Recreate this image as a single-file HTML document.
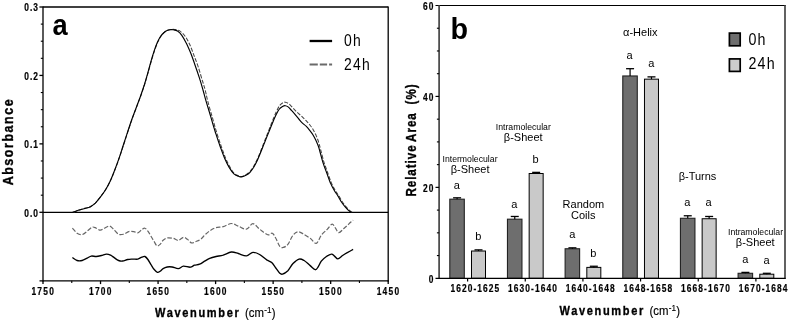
<!DOCTYPE html>
<html lang="en"><head><meta charset="utf-8"><title>FTIR spectra and secondary structure</title>
<style>
html,body{margin:0;padding:0;background:#fff;}
body{width:790px;height:321px;overflow:hidden;}
svg{display:block;}
text{font-family:"Liberation Sans",sans-serif;fill:#000;}
.b{font-weight:bold;}
</style></head><body>
<svg width="790" height="321" viewBox="0 0 790 321">
<rect width="790" height="321" fill="#fff"/>

<g id="plotA">
<line x1="43.00" y1="7.00" x2="388.20" y2="7.00" stroke="#000" stroke-width="1.3" />
<line x1="388.20" y1="6.40" x2="388.20" y2="281.40" stroke="#000" stroke-width="1.3" />
<line x1="43.00" y1="6.40" x2="43.00" y2="281.40" stroke="#000" stroke-width="1.3" />
<line x1="39.50" y1="280.80" x2="388.80" y2="280.80" stroke="#000" stroke-width="1.3" />
<line x1="43.00" y1="212.30" x2="388.20" y2="212.30" stroke="#000" stroke-width="1.3" />
<line x1="39.40" y1="212.30" x2="43.00" y2="212.30" stroke="#000" stroke-width="1.3" />
<line x1="40.80" y1="195.19" x2="43.00" y2="195.19" stroke="#000" stroke-width="1.1" />
<line x1="40.80" y1="178.08" x2="43.00" y2="178.08" stroke="#000" stroke-width="1.1" />
<line x1="40.80" y1="160.97" x2="43.00" y2="160.97" stroke="#000" stroke-width="1.1" />
<line x1="39.40" y1="143.87" x2="43.00" y2="143.87" stroke="#000" stroke-width="1.3" />
<line x1="40.80" y1="126.76" x2="43.00" y2="126.76" stroke="#000" stroke-width="1.1" />
<line x1="40.80" y1="109.65" x2="43.00" y2="109.65" stroke="#000" stroke-width="1.1" />
<line x1="40.80" y1="92.54" x2="43.00" y2="92.54" stroke="#000" stroke-width="1.1" />
<line x1="39.40" y1="75.43" x2="43.00" y2="75.43" stroke="#000" stroke-width="1.3" />
<line x1="40.80" y1="58.32" x2="43.00" y2="58.32" stroke="#000" stroke-width="1.1" />
<line x1="40.80" y1="41.22" x2="43.00" y2="41.22" stroke="#000" stroke-width="1.1" />
<line x1="40.80" y1="24.11" x2="43.00" y2="24.11" stroke="#000" stroke-width="1.1" />
<line x1="39.40" y1="7.00" x2="43.00" y2="7.00" stroke="#000" stroke-width="1.3" />
<text class="b" transform="translate(38.80,216.60) scale(0.84,1)" font-size="10" text-anchor="end" letter-spacing="1.1"  stroke="#000" stroke-width="0.2">0.0</text>
<text class="b" transform="translate(38.80,148.17) scale(0.84,1)" font-size="10" text-anchor="end" letter-spacing="1.1"  stroke="#000" stroke-width="0.2">0.1</text>
<text class="b" transform="translate(38.80,79.73) scale(0.84,1)" font-size="10" text-anchor="end" letter-spacing="1.1"  stroke="#000" stroke-width="0.2">0.2</text>
<text class="b" transform="translate(38.80,11.30) scale(0.84,1)" font-size="10" text-anchor="end" letter-spacing="1.1"  stroke="#000" stroke-width="0.2">0.3</text>
<line x1="43.00" y1="280.80" x2="43.00" y2="284.10" stroke="#000" stroke-width="1.3" />
<text class="b" transform="translate(43.30,294.90) scale(0.84,1)" font-size="10" text-anchor="middle" letter-spacing="1.5"  stroke="#000" stroke-width="0.2">1750</text>
<line x1="71.77" y1="280.80" x2="71.77" y2="283.00" stroke="#000" stroke-width="1.1" />
<line x1="100.53" y1="280.80" x2="100.53" y2="284.10" stroke="#000" stroke-width="1.3" />
<text class="b" transform="translate(100.83,294.90) scale(0.84,1)" font-size="10" text-anchor="middle" letter-spacing="1.5"  stroke="#000" stroke-width="0.2">1700</text>
<line x1="129.30" y1="280.80" x2="129.30" y2="283.00" stroke="#000" stroke-width="1.1" />
<line x1="158.07" y1="280.80" x2="158.07" y2="284.10" stroke="#000" stroke-width="1.3" />
<text class="b" transform="translate(158.37,294.90) scale(0.84,1)" font-size="10" text-anchor="middle" letter-spacing="1.5"  stroke="#000" stroke-width="0.2">1650</text>
<line x1="186.83" y1="280.80" x2="186.83" y2="283.00" stroke="#000" stroke-width="1.1" />
<line x1="215.60" y1="280.80" x2="215.60" y2="284.10" stroke="#000" stroke-width="1.3" />
<text class="b" transform="translate(215.90,294.90) scale(0.84,1)" font-size="10" text-anchor="middle" letter-spacing="1.5"  stroke="#000" stroke-width="0.2">1600</text>
<line x1="244.37" y1="280.80" x2="244.37" y2="283.00" stroke="#000" stroke-width="1.1" />
<line x1="273.13" y1="280.80" x2="273.13" y2="284.10" stroke="#000" stroke-width="1.3" />
<text class="b" transform="translate(273.43,294.90) scale(0.84,1)" font-size="10" text-anchor="middle" letter-spacing="1.5"  stroke="#000" stroke-width="0.2">1550</text>
<line x1="301.90" y1="280.80" x2="301.90" y2="283.00" stroke="#000" stroke-width="1.1" />
<line x1="330.67" y1="280.80" x2="330.67" y2="284.10" stroke="#000" stroke-width="1.3" />
<text class="b" transform="translate(330.97,294.90) scale(0.84,1)" font-size="10" text-anchor="middle" letter-spacing="1.5"  stroke="#000" stroke-width="0.2">1500</text>
<line x1="359.43" y1="280.80" x2="359.43" y2="283.00" stroke="#000" stroke-width="1.1" />
<line x1="388.20" y1="280.80" x2="388.20" y2="284.10" stroke="#000" stroke-width="1.3" />
<text class="b" transform="translate(388.50,294.90) scale(0.84,1)" font-size="10" text-anchor="middle" letter-spacing="1.5"  stroke="#000" stroke-width="0.2">1450</text>
<text class="b" transform="translate(13.20,141.60) rotate(-90) scale(0.86,1)" font-size="14.5" text-anchor="middle" letter-spacing="1.8"  stroke="#000" stroke-width="0.35">Absorbance</text>
<text class="b" transform="translate(155,317.2) scale(0.83,1)" font-size="13.3" letter-spacing="2.0" stroke="#000" stroke-width="0.35">Wavenumber</text>
<text transform="translate(244.9,317.2) scale(0.95,1)" font-size="12" stroke="#000" stroke-width="0.15">(cm<tspan font-size="8.6" dy="-4.4" dx="0.3" letter-spacing="0.2">-1</tspan><tspan dy="4.4" dx="0">)</tspan></text>
<text class="b" transform="translate(52.60,35.20) scale(0.94,1)" font-size="29" text-anchor="start" stroke="none">a</text>
<path d="M73.5,212.3C74.1,212.1 76.0,211.3 77.3,210.8C78.5,210.3 79.5,209.9 81.0,209.4C82.5,208.9 84.3,208.5 86.0,208.0C87.7,207.5 89.3,207.2 91.0,206.3C92.7,205.4 94.3,204.2 96.0,202.5C97.7,200.8 99.3,198.2 101.0,196.0C102.7,193.8 104.3,191.8 106.0,189.0C107.7,186.2 109.3,183.1 111.0,179.4C112.7,175.7 114.6,170.7 116.0,167.0C117.4,163.3 118.2,161.0 119.5,157.3C120.8,153.6 122.2,149.1 123.6,144.8C125.0,140.5 126.5,136.0 127.9,131.6C129.4,127.2 130.8,122.7 132.3,118.5C133.8,114.3 135.2,110.6 136.7,106.7C138.1,102.8 139.7,98.9 141.0,95.2C142.3,91.5 143.5,88.0 144.7,84.3C145.8,80.6 146.8,77.1 147.9,73.3C149.0,69.5 150.1,65.2 151.2,61.5C152.3,57.8 153.4,54.0 154.5,50.8C155.6,47.6 156.7,44.5 157.8,42.1C158.9,39.7 159.9,37.7 161.0,36.1C162.1,34.5 163.2,33.4 164.3,32.4C165.4,31.4 166.5,30.8 167.6,30.3C168.7,29.8 169.8,29.6 171.0,29.5C172.2,29.4 173.4,29.3 174.8,29.5C176.2,29.7 178.0,29.8 179.7,30.9C181.4,32.0 183.5,34.1 185.1,36.3C186.7,38.5 188.1,40.9 189.5,44.0C190.9,47.1 192.4,51.1 193.8,54.9C195.2,58.7 196.8,62.4 198.2,66.8C199.6,71.1 201.3,77.1 202.5,81.0C203.7,84.9 204.3,86.7 205.2,90.0C206.0,93.3 206.5,96.2 207.6,100.6C208.7,105.0 210.5,111.0 212.0,116.2C213.5,121.4 214.9,126.8 216.4,131.7C217.9,136.6 219.5,141.3 221.0,145.7C222.5,150.1 224.1,154.5 225.6,158.2C227.1,161.8 228.7,165.0 230.2,167.6C231.7,170.2 233.1,172.4 234.6,173.8C236.1,175.2 237.8,175.6 239.0,176.0C240.2,176.4 240.8,176.8 242.0,176.5C243.2,176.2 245.1,175.2 246.4,174.4C247.7,173.6 248.8,172.8 250.0,171.5C251.2,170.2 252.4,168.4 253.7,166.3C254.9,164.2 256.2,161.5 257.5,158.7C258.8,155.9 260.0,152.8 261.2,149.7C262.4,146.6 263.6,143.5 264.9,140.3C266.1,137.1 267.4,133.8 268.7,130.6C269.9,127.4 271.1,124.3 272.4,121.2C273.6,118.1 275.0,114.5 276.2,112.0C277.4,109.5 278.3,107.4 279.4,105.9C280.4,104.4 281.5,103.6 282.5,103.0C283.5,102.4 284.2,102.0 285.3,102.2C286.4,102.4 287.7,102.9 289.0,103.9C290.3,104.9 291.9,107.0 293.3,108.4C294.7,109.9 296.1,111.3 297.5,112.6C298.9,113.9 300.4,115.1 301.8,116.4C303.2,117.8 304.8,119.4 306.1,120.7C307.4,122.0 308.4,123.1 309.5,124.5C310.6,125.9 311.8,127.3 312.9,129.2C314.0,131.1 315.4,133.8 316.4,136.1C317.4,138.4 318.2,140.7 318.9,143.0C319.6,145.3 319.8,146.8 320.7,150.0C321.6,153.2 322.8,158.5 324.0,162.3C325.2,166.1 326.5,169.4 327.7,172.8C328.9,176.2 330.1,180.0 331.4,182.9C332.6,185.8 333.9,188.1 335.2,190.3C336.4,192.5 337.7,193.9 338.9,195.9C340.1,197.9 341.4,200.4 342.6,202.3C343.9,204.2 345.1,205.7 346.4,207.1C347.6,208.5 349.1,210.0 350.1,210.9C351.1,211.8 352.1,212.2 352.5,212.5" fill="none" stroke="#444" stroke-width="1.05" stroke-dasharray="4 1.6"/>
<path d="M72.5,212.3C73.1,212.1 75.0,211.4 76.3,211.0C77.6,210.6 78.6,210.2 80.1,209.8C81.5,209.4 83.3,208.9 85.0,208.4C86.7,207.9 88.5,207.8 90.2,206.9C91.9,206.0 93.6,204.8 95.3,203.2C97.0,201.5 98.7,199.2 100.4,197.0C102.1,194.8 103.7,192.8 105.4,190.0C107.1,187.2 108.8,184.1 110.5,180.4C112.2,176.7 114.1,171.7 115.5,168.0C116.9,164.3 117.7,162.0 119.0,158.3C120.3,154.6 121.7,150.1 123.1,145.8C124.5,141.5 126.0,137.0 127.4,132.6C128.9,128.2 130.3,123.7 131.8,119.5C133.3,115.3 134.8,111.6 136.2,107.7C137.6,103.8 139.2,99.9 140.5,96.2C141.8,92.5 143.0,89.0 144.2,85.3C145.3,81.6 146.3,78.1 147.4,74.3C148.5,70.5 149.6,66.1 150.7,62.3C151.8,58.5 152.9,54.7 154.0,51.4C155.1,48.1 156.2,45.1 157.3,42.6C158.4,40.1 159.4,38.1 160.5,36.5C161.6,34.9 162.7,33.7 163.8,32.7C164.9,31.7 166.0,31.1 167.1,30.6C168.2,30.1 169.2,29.8 170.3,29.7C171.4,29.6 172.4,29.6 173.6,29.8C174.8,30.0 176.1,30.2 177.5,31.1C178.9,32.0 180.4,33.3 181.8,35.3C183.2,37.3 184.7,40.0 186.2,42.9C187.7,45.8 189.1,49.1 190.6,52.7C192.1,56.3 193.4,60.5 194.9,64.7C196.4,68.9 198.0,73.5 199.3,77.7C200.7,81.9 201.9,86.2 203.0,90.0C204.1,93.8 204.6,96.2 205.9,100.6C207.2,105.0 209.1,111.0 210.6,116.2C212.1,121.4 213.6,126.8 215.2,131.7C216.8,136.6 218.3,141.3 219.9,145.7C221.5,150.1 223.0,154.5 224.6,158.2C226.2,161.8 227.8,165.0 229.3,167.6C230.9,170.2 232.4,172.4 233.9,173.8C235.4,175.2 237.3,175.8 238.6,176.3C239.9,176.8 240.4,177.1 241.7,176.9C243.0,176.7 245.0,175.8 246.4,175.0C247.8,174.2 248.8,173.6 250.0,172.3C251.2,171.0 252.4,169.4 253.7,167.3C254.9,165.2 256.2,162.6 257.5,159.9C258.8,157.2 260.0,154.1 261.2,151.1C262.4,148.1 263.6,145.0 264.9,141.9C266.1,138.8 267.4,135.5 268.7,132.4C269.9,129.3 271.1,126.2 272.4,123.2C273.6,120.2 275.0,116.9 276.2,114.5C277.4,112.1 278.3,110.3 279.4,109.0C280.4,107.7 281.5,107.0 282.5,106.4C283.5,105.9 284.4,105.6 285.3,105.7C286.2,105.8 287.1,106.1 288.1,106.9C289.1,107.7 290.4,109.2 291.5,110.4C292.6,111.6 293.7,112.8 295.0,114.3C296.3,115.8 297.9,118.0 299.2,119.5C300.5,121.0 301.5,122.2 302.7,123.3C303.9,124.4 305.0,125.1 306.1,126.2C307.2,127.3 308.4,128.7 309.5,130.1C310.6,131.5 311.9,133.1 312.9,134.7C313.9,136.3 314.6,137.7 315.5,139.5C316.4,141.3 317.4,143.8 318.1,145.5C318.8,147.2 318.7,147.2 319.5,150.0C320.3,152.8 321.7,158.5 322.9,162.3C324.1,166.1 325.4,169.4 326.7,172.8C327.9,176.2 329.1,180.0 330.4,182.9C331.6,185.8 332.9,188.1 334.2,190.3C335.4,192.5 336.7,193.9 337.9,195.9C339.1,197.9 340.4,200.4 341.6,202.3C342.9,204.2 344.1,205.7 345.4,207.1C346.6,208.5 348.1,210.0 349.1,210.9C350.2,211.8 351.3,212.3 351.7,212.6" fill="none" stroke="#000" stroke-width="1.15"/>
<path d="M72.4,228.2C73.2,229.0 75.5,232.1 77.1,233.2C78.7,234.3 80.4,234.9 82.1,234.6C83.8,234.3 85.5,232.4 87.2,231.2C88.9,229.9 90.8,227.6 92.3,227.1C93.8,226.6 94.9,227.7 96.3,228.2C97.7,228.7 99.1,230.2 100.4,230.2C101.8,230.2 102.9,228.9 104.4,228.2C105.9,227.5 108.0,225.9 109.5,226.1C111.0,226.3 112.0,227.8 113.5,229.2C115.0,230.5 116.9,233.4 118.6,234.2C120.3,235.0 121.9,234.6 123.6,234.2C125.3,233.8 127.0,232.0 128.7,231.6C130.4,231.2 132.3,231.4 133.8,231.6C135.3,231.8 136.5,233.1 137.8,232.8C139.2,232.5 140.7,230.4 141.9,229.6C143.1,228.8 143.9,227.9 144.9,228.2C145.9,228.5 146.9,229.8 147.9,231.2C148.9,232.5 150.0,234.6 151.0,236.3C152.0,238.0 153.0,239.7 154.0,241.3C155.0,242.9 156.0,245.3 157.0,245.8C158.0,246.3 159.1,245.3 160.1,244.4C161.1,243.5 161.9,241.4 163.1,240.3C164.3,239.2 165.5,238.2 167.2,237.9C168.9,237.6 171.3,237.9 173.2,238.3C175.0,238.7 176.6,240.5 178.3,240.3C180.0,240.1 181.9,237.5 183.4,237.3C184.9,237.1 186.1,238.4 187.4,239.3C188.8,240.2 190.2,242.5 191.5,242.9C192.8,243.3 194.0,242.3 195.5,241.7C197.0,241.1 198.9,240.6 200.6,239.3C202.3,238.1 203.9,235.7 205.6,234.2C207.3,232.7 208.9,231.3 210.7,230.2C212.4,229.1 214.0,228.2 216.1,227.6C218.2,227.0 220.7,227.4 223.2,226.7C225.7,226.0 228.8,223.6 231.3,223.5C233.8,223.4 235.8,225.2 238.3,226.1C240.8,227.0 244.0,229.6 246.4,229.2C248.8,228.8 250.7,223.7 252.9,223.7C255.1,223.7 257.1,227.3 259.6,229.2C262.1,231.0 265.6,234.1 267.7,234.8C269.8,235.5 270.9,232.6 272.3,233.2C273.7,233.8 274.6,236.1 275.8,238.3C277.1,240.5 278.6,244.9 279.8,246.4C281.1,247.9 282.0,247.7 283.3,247.4C284.6,247.1 286.3,246.4 287.9,244.4C289.5,242.4 291.3,237.3 293.0,235.2C294.7,233.1 296.4,232.0 298.1,231.8C299.8,231.6 301.1,232.7 303.1,233.8C305.1,234.9 308.0,236.7 310.2,238.3C312.4,239.9 314.4,243.8 316.3,243.3C318.2,242.8 319.5,237.5 321.3,235.2C323.1,232.8 325.6,231.0 327.4,229.2C329.2,227.3 330.8,224.3 332.1,224.1C333.5,223.9 334.4,226.8 335.5,228.2C336.6,229.6 337.5,232.5 338.9,232.6C340.2,232.7 342.0,230.2 343.6,228.8C345.2,227.4 347.1,225.6 348.7,224.1C350.3,222.6 352.4,220.8 353.1,220.1" fill="none" stroke="#666" stroke-width="1.2" stroke-dasharray="4.5 1.8"/>
<path d="M72.4,257.5C73.2,258.0 75.5,260.0 77.1,260.5C78.7,261.0 80.4,260.9 82.1,260.5C83.8,260.1 85.7,258.8 87.2,258.1C88.7,257.4 89.8,256.4 91.3,256.1C92.8,255.8 94.6,256.6 96.3,256.5C98.0,256.4 99.7,255.9 101.4,255.5C103.1,255.1 104.9,254.2 106.4,254.1C107.9,254.0 109.2,254.5 110.5,255.1C111.8,255.7 113.2,257.0 114.5,257.9C115.8,258.8 117.2,260.0 118.6,260.5C119.9,261.0 121.1,261.2 122.6,261.0C124.1,260.8 126.0,259.8 127.7,259.5C129.4,259.2 131.1,259.2 132.8,259.1C134.5,259.0 136.3,259.4 137.8,259.1C139.3,258.8 140.7,257.5 141.9,257.1C143.1,256.7 143.9,256.1 144.9,256.5C145.9,256.9 146.9,258.1 147.9,259.5C148.9,260.9 150.0,263.0 151.0,264.6C152.0,266.2 152.9,268.0 154.0,269.3C155.1,270.6 156.4,272.0 157.4,272.3C158.4,272.6 159.2,271.9 160.1,271.3C161.0,270.7 161.9,269.3 163.1,268.6C164.3,267.9 165.7,267.3 167.2,267.0C168.7,266.7 170.3,266.7 172.2,267.0C174.0,267.3 176.4,268.7 178.3,268.6C180.2,268.5 181.4,266.4 183.4,266.2C185.4,266.0 188.6,267.4 190.4,267.2C192.2,267.0 193.0,265.7 194.5,265.2C196.0,264.7 197.9,264.9 199.6,264.2C201.3,263.5 202.9,262.2 204.6,261.2C206.3,260.2 207.8,259.1 209.7,258.3C211.6,257.5 213.8,257.0 216.1,256.5C218.3,256.0 220.7,255.8 223.2,255.1C225.7,254.3 228.8,252.3 231.3,252.0C233.8,251.7 235.8,252.8 238.3,253.5C240.8,254.2 244.0,256.1 246.4,255.9C248.8,255.7 250.7,252.6 252.9,252.4C255.1,252.2 257.3,253.2 259.6,254.5C261.9,255.8 264.7,258.5 266.7,259.9C268.7,261.2 270.2,261.2 271.7,262.6C273.2,264.0 274.4,266.2 275.8,268.0C277.2,269.8 278.7,272.3 279.8,273.3C280.9,274.3 281.1,274.5 282.5,274.1C283.9,273.7 286.1,272.4 287.9,270.7C289.6,268.9 291.1,265.5 293.0,263.6C294.9,261.7 297.2,259.6 299.1,259.1C301.0,258.6 302.2,259.4 304.1,260.5C306.0,261.6 308.3,264.1 310.2,265.6C312.1,267.1 313.9,269.5 315.3,269.7C316.7,269.9 317.3,268.0 318.3,266.6C319.3,265.2 320.0,262.9 321.3,261.2C322.6,259.5 324.7,257.7 326.4,256.5C328.1,255.3 330.1,254.2 331.5,254.1C332.9,254.0 333.4,255.3 334.5,256.1C335.6,256.9 336.5,259.0 337.9,258.9C339.2,258.8 341.0,256.6 342.6,255.5C344.2,254.4 345.9,253.4 347.7,252.4C349.4,251.4 352.2,249.9 353.1,249.4" fill="none" stroke="#000" stroke-width="1.35"/>
<line x1="309.60" y1="41.00" x2="332.10" y2="41.00" stroke="#000" stroke-width="2.3" />
<line x1="309.60" y1="64.40" x2="332.10" y2="64.40" stroke="#6a6a6a" stroke-width="2.0" stroke-dasharray="8.2 2 7.3 2 3 20"/>
<text transform="translate(344.00,46.40) scale(0.81,1)" font-size="17.2" text-anchor="start" letter-spacing="1.5" >0h</text>
<text transform="translate(344.00,69.80) scale(0.81,1)" font-size="17.2" text-anchor="start" letter-spacing="1.5" >24h</text>
</g>
<g id="plotB">
<rect x="449.80" y="199.19" width="14.5" height="79.11" fill="#6e6e6e" stroke="#222" stroke-width="1.1"/>
<line x1="457.10" y1="197.82" x2="457.10" y2="199.19" stroke="#000" stroke-width="1.2" />
<line x1="453.10" y1="197.82" x2="461.10" y2="197.82" stroke="#000" stroke-width="1.3" />
<rect x="471.50" y="251.02" width="14" height="27.28" fill="#c9c9c9" stroke="#000" stroke-width="1"/>
<line x1="478.50" y1="249.88" x2="478.50" y2="251.02" stroke="#000" stroke-width="1.2" />
<line x1="474.50" y1="249.88" x2="482.50" y2="249.88" stroke="#000" stroke-width="1.3" />
<rect x="507.46" y="219.19" width="14.5" height="59.11" fill="#6e6e6e" stroke="#222" stroke-width="1.1"/>
<line x1="514.76" y1="216.47" x2="514.76" y2="219.19" stroke="#000" stroke-width="1.2" />
<line x1="510.76" y1="216.47" x2="518.76" y2="216.47" stroke="#000" stroke-width="1.3" />
<rect x="529.16" y="173.50" width="14" height="104.80" fill="#c9c9c9" stroke="#000" stroke-width="1"/>
<line x1="536.16" y1="172.36" x2="536.16" y2="173.50" stroke="#000" stroke-width="1.2" />
<line x1="532.16" y1="172.36" x2="540.16" y2="172.36" stroke="#000" stroke-width="1.3" />
<rect x="565.12" y="248.75" width="14.5" height="29.55" fill="#6e6e6e" stroke="#222" stroke-width="1.1"/>
<line x1="572.42" y1="247.84" x2="572.42" y2="248.75" stroke="#000" stroke-width="1.2" />
<line x1="568.42" y1="247.84" x2="576.42" y2="247.84" stroke="#000" stroke-width="1.3" />
<rect x="586.82" y="267.39" width="14" height="10.91" fill="#c9c9c9" stroke="#000" stroke-width="1"/>
<line x1="593.82" y1="266.25" x2="593.82" y2="267.39" stroke="#000" stroke-width="1.2" />
<line x1="589.82" y1="266.25" x2="597.82" y2="266.25" stroke="#000" stroke-width="1.3" />
<rect x="622.78" y="75.97" width="14.5" height="202.33" fill="#6e6e6e" stroke="#222" stroke-width="1.1"/>
<line x1="630.08" y1="68.70" x2="630.08" y2="75.97" stroke="#000" stroke-width="1.2" />
<line x1="626.08" y1="68.70" x2="634.08" y2="68.70" stroke="#000" stroke-width="1.3" />
<rect x="644.48" y="79.16" width="14" height="199.14" fill="#c9c9c9" stroke="#000" stroke-width="1"/>
<line x1="651.48" y1="76.88" x2="651.48" y2="79.16" stroke="#000" stroke-width="1.2" />
<line x1="647.48" y1="76.88" x2="655.48" y2="76.88" stroke="#000" stroke-width="1.3" />
<rect x="680.44" y="218.28" width="14.5" height="60.02" fill="#6e6e6e" stroke="#222" stroke-width="1.1"/>
<line x1="687.74" y1="215.78" x2="687.74" y2="218.28" stroke="#000" stroke-width="1.2" />
<line x1="683.74" y1="215.78" x2="691.74" y2="215.78" stroke="#000" stroke-width="1.3" />
<rect x="702.14" y="218.74" width="14" height="59.56" fill="#c9c9c9" stroke="#000" stroke-width="1"/>
<line x1="709.14" y1="216.47" x2="709.14" y2="218.74" stroke="#000" stroke-width="1.2" />
<line x1="705.14" y1="216.47" x2="713.14" y2="216.47" stroke="#000" stroke-width="1.3" />
<rect x="738.10" y="273.30" width="14.5" height="5.00" fill="#6e6e6e" stroke="#222" stroke-width="1.1"/>
<line x1="745.40" y1="272.39" x2="745.40" y2="273.30" stroke="#000" stroke-width="1.2" />
<line x1="741.40" y1="272.39" x2="749.40" y2="272.39" stroke="#000" stroke-width="1.3" />
<rect x="759.80" y="274.21" width="14" height="4.09" fill="#c9c9c9" stroke="#000" stroke-width="1"/>
<line x1="766.80" y1="273.30" x2="766.80" y2="274.21" stroke="#000" stroke-width="1.2" />
<line x1="762.80" y1="273.30" x2="770.80" y2="273.30" stroke="#000" stroke-width="1.3" />
<line x1="435.50" y1="5.50" x2="785.60" y2="5.50" stroke="#000" stroke-width="1.0" />
<line x1="785.00" y1="5.00" x2="785.00" y2="278.90" stroke="#3a3a3a" stroke-width="1.6" />
<line x1="439.10" y1="5.00" x2="439.10" y2="278.90" stroke="#3a3a3a" stroke-width="1.6" />
<line x1="435.50" y1="278.30" x2="785.60" y2="278.30" stroke="#000" stroke-width="1.3" />
<line x1="436.90" y1="255.57" x2="439.10" y2="255.57" stroke="#000" stroke-width="1.1" />
<line x1="436.90" y1="232.83" x2="439.10" y2="232.83" stroke="#000" stroke-width="1.1" />
<line x1="436.90" y1="210.10" x2="439.10" y2="210.10" stroke="#000" stroke-width="1.1" />
<line x1="435.50" y1="187.37" x2="439.10" y2="187.37" stroke="#000" stroke-width="1.2" />
<line x1="436.90" y1="164.63" x2="439.10" y2="164.63" stroke="#000" stroke-width="1.1" />
<line x1="436.90" y1="141.90" x2="439.10" y2="141.90" stroke="#000" stroke-width="1.1" />
<line x1="436.90" y1="119.17" x2="439.10" y2="119.17" stroke="#000" stroke-width="1.1" />
<line x1="435.50" y1="96.43" x2="439.10" y2="96.43" stroke="#000" stroke-width="1.2" />
<line x1="436.90" y1="73.70" x2="439.10" y2="73.70" stroke="#000" stroke-width="1.1" />
<line x1="436.90" y1="50.97" x2="439.10" y2="50.97" stroke="#000" stroke-width="1.1" />
<line x1="436.90" y1="28.23" x2="439.10" y2="28.23" stroke="#000" stroke-width="1.1" />
<text class="b" transform="translate(434.60,282.50) scale(0.84,1)" font-size="10" text-anchor="end" letter-spacing="1.3"  stroke="#000" stroke-width="0.2">0</text>
<text class="b" transform="translate(434.60,191.57) scale(0.84,1)" font-size="10" text-anchor="end" letter-spacing="1.3"  stroke="#000" stroke-width="0.2">20</text>
<text class="b" transform="translate(434.60,100.63) scale(0.84,1)" font-size="10" text-anchor="end" letter-spacing="1.3"  stroke="#000" stroke-width="0.2">40</text>
<text class="b" transform="translate(434.60,9.70) scale(0.84,1)" font-size="10" text-anchor="end" letter-spacing="1.3"  stroke="#000" stroke-width="0.2">60</text>
<line x1="467.60" y1="278.30" x2="467.60" y2="281.50" stroke="#000" stroke-width="1.2" />
<text class="b" transform="translate(450.40,291.90) scale(0.84,1)" font-size="10" text-anchor="start" letter-spacing="1.3"  stroke="#000" stroke-width="0.2">1620-1625</text>
<line x1="525.26" y1="278.30" x2="525.26" y2="281.50" stroke="#000" stroke-width="1.2" />
<text class="b" transform="translate(508.06,291.90) scale(0.84,1)" font-size="10" text-anchor="start" letter-spacing="1.3"  stroke="#000" stroke-width="0.2">1630-1640</text>
<line x1="582.92" y1="278.30" x2="582.92" y2="281.50" stroke="#000" stroke-width="1.2" />
<text class="b" transform="translate(565.72,291.90) scale(0.84,1)" font-size="10" text-anchor="start" letter-spacing="1.3"  stroke="#000" stroke-width="0.2">1640-1648</text>
<line x1="640.58" y1="278.30" x2="640.58" y2="281.50" stroke="#000" stroke-width="1.2" />
<text class="b" transform="translate(623.38,291.90) scale(0.84,1)" font-size="10" text-anchor="start" letter-spacing="1.3"  stroke="#000" stroke-width="0.2">1648-1658</text>
<line x1="698.24" y1="278.30" x2="698.24" y2="281.50" stroke="#000" stroke-width="1.2" />
<text class="b" transform="translate(681.04,291.90) scale(0.84,1)" font-size="10" text-anchor="start" letter-spacing="1.3"  stroke="#000" stroke-width="0.2">1668-1670</text>
<line x1="755.90" y1="278.30" x2="755.90" y2="281.50" stroke="#000" stroke-width="1.2" />
<text class="b" transform="translate(738.70,291.90) scale(0.84,1)" font-size="10" text-anchor="start" letter-spacing="1.3"  stroke="#000" stroke-width="0.2">1670-1684</text>
<text class="b" transform="translate(416.30,196.60) rotate(-90) scale(0.8,1)" font-size="14.5" text-anchor="start" letter-spacing="1.2"  stroke="#000" stroke-width="0.35">Relative</text>
<text class="b" transform="translate(416.30,141.90) rotate(-90) scale(0.8,1)" font-size="14.5" text-anchor="start" letter-spacing="1.2"  stroke="#000" stroke-width="0.35">Area</text>
<text class="b" transform="translate(416.30,104.40) rotate(-90) scale(0.8,1)" font-size="14.5" text-anchor="start" letter-spacing="1.2"  stroke="#000" stroke-width="0.35">(%)</text>
<text class="b" transform="translate(559.5,315.4) scale(0.83,1)" font-size="13.3" letter-spacing="2.0" stroke="#000" stroke-width="0.35">Wavenumber</text>
<text transform="translate(649.4,315.4) scale(0.95,1)" font-size="12" stroke="#000" stroke-width="0.15">(cm<tspan font-size="8.6" dy="-4.4" dx="0.3" letter-spacing="0.2">-1</tspan><tspan dy="4.4" dx="0">)</tspan></text>
<text class="b" transform="translate(450.40,39.20)" font-size="28.7" text-anchor="start" >b</text>
<text transform="translate(470.00,161.70)" font-size="8.7" text-anchor="middle" >Intermolecular</text>
<text transform="translate(470.10,172.90)" font-size="11" text-anchor="middle" >β-Sheet</text>
<text transform="translate(523.30,130.00)" font-size="8.7" text-anchor="middle" >Intramolecular</text>
<text transform="translate(523.20,140.50)" font-size="11" text-anchor="middle" >β-Sheet</text>
<text transform="translate(583.40,208.00)" font-size="11" text-anchor="middle" >Random</text>
<text transform="translate(583.20,219.40)" font-size="11" text-anchor="middle" >Coils</text>
<text transform="translate(640.30,35.90)" font-size="11" text-anchor="middle" >α-Helix</text>
<text transform="translate(697.50,180.00)" font-size="11" text-anchor="middle" >β-Turns</text>
<text transform="translate(755.50,235.00)" font-size="8.7" text-anchor="middle" >Intramolecular</text>
<text transform="translate(755.20,245.80)" font-size="11" text-anchor="middle" >β-Sheet</text>
<text transform="translate(456.80,188.90)" font-size="11" text-anchor="middle" >a</text>
<text transform="translate(478.30,240.20)" font-size="11" text-anchor="middle" >b</text>
<text transform="translate(514.30,207.60)" font-size="11" text-anchor="middle" >a</text>
<text transform="translate(535.50,162.60)" font-size="11" text-anchor="middle" >b</text>
<text transform="translate(572.20,237.60)" font-size="11" text-anchor="middle" >a</text>
<text transform="translate(593.30,256.70)" font-size="11" text-anchor="middle" >b</text>
<text transform="translate(629.50,59.20)" font-size="11" text-anchor="middle" >a</text>
<text transform="translate(651.40,66.60)" font-size="11" text-anchor="middle" >a</text>
<text transform="translate(687.40,205.60)" font-size="11" text-anchor="middle" >a</text>
<text transform="translate(708.50,205.60)" font-size="11" text-anchor="middle" >a</text>
<text transform="translate(745.30,262.60)" font-size="11" text-anchor="middle" >a</text>
<text transform="translate(766.50,264.20)" font-size="11" text-anchor="middle" >a</text>
<rect x="729.4" y="33.1" width="10.8" height="12.7" fill="#6e6e6e" stroke="#000" stroke-width="1.7"/>
<rect x="729.4" y="58.9" width="10.8" height="12.5" fill="#cdcdcd" stroke="#000" stroke-width="1.7"/>
<text transform="translate(748.40,45.30) scale(0.84,1)" font-size="17.0" text-anchor="start" letter-spacing="1.5" >0h</text>
<text transform="translate(748.40,68.60) scale(0.84,1)" font-size="17.0" text-anchor="start" letter-spacing="1.5" >24h</text>
</g>
</svg></body></html>
